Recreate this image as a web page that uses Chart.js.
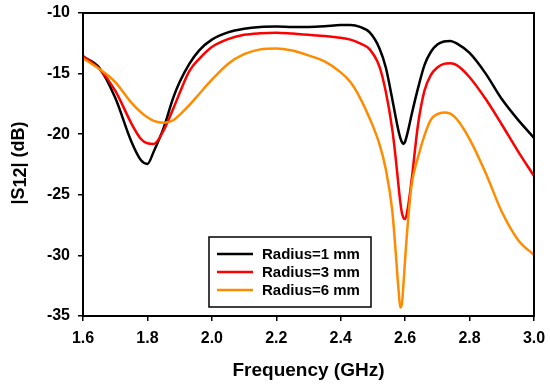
<!DOCTYPE html>
<html>
<head>
<meta charset="utf-8">
<script src="https://cdn.jsdelivr.net/npm/chart.js@4"></script>
<style>
  html, body { margin: 0; padding: 0; background: #fff; }
  #wrap { width: 550px; height: 386px; position: relative; }
</style>
</head>
<body>
<div id="wrap"><canvas id="chart" width="550" height="386"></canvas></div>
<script>
// Frequency grid (GHz), finer around the notches
const freq = [1.60, 1.65, 1.70, 1.75, 1.78, 1.80, 1.82, 1.85, 1.88, 1.90, 1.93, 1.96,
  2.00, 2.05, 2.10, 2.15, 2.20, 2.25, 2.30, 2.35, 2.40, 2.43, 2.46, 2.49, 2.52, 2.54,
  2.56, 2.57, 2.58, 2.585, 2.59, 2.595, 2.60, 2.61, 2.62, 2.64, 2.66, 2.68, 2.70, 2.72,
  2.74, 2.76, 2.80, 2.85, 2.90, 2.95, 3.00];

const r1mm = [-13.6, -14.5, -17.0, -20.6, -22.15, -22.45, -21.4, -19.5, -17.0, -15.7, -14.2, -13.1,
  -12.2, -11.6, -11.3, -11.15, -11.12, -11.15, -11.15, -11.1, -11.0, -11.0, -11.15, -11.6, -12.9, -14.5,
  -17.1, -18.5, -19.8, -20.3, -20.65, -20.8, -20.6, -19.6, -18.4, -16.2, -14.3, -13.2, -12.6, -12.35,
  -12.3, -12.5, -13.3, -15.0, -17.1, -18.8, -20.3];

const r3mm = [-13.55, -14.6, -16.4, -19.1, -20.4, -20.75, -20.8, -19.7, -17.9, -16.6, -14.8, -13.8,
  -12.8, -12.15, -11.8, -11.67, -11.62, -11.7, -11.8, -11.9, -12.05, -12.2, -12.5, -13.0, -14.4, -16.5,
  -19.6, -21.8, -24.4, -25.6, -26.5, -26.9, -27.0, -25.8, -23.8, -19.2, -16.4, -15.1, -14.5, -14.2,
  -14.15, -14.3, -15.3, -17.1, -19.2, -21.4, -23.45];

const r6mm = [-13.74, -14.6, -15.7, -17.4, -18.2, -18.6, -18.9, -19.05, -18.85, -18.4, -17.6, -16.7,
  -15.5, -14.2, -13.4, -13.0, -12.92, -13.1, -13.5, -14.0, -14.9, -15.7, -17.0, -18.7, -20.8, -22.9,
  -26.3, -29.5, -33.0, -34.3, -34.0, -32.3, -30.3, -26.8, -24.2, -21.9, -20.1, -18.8, -18.35, -18.2,
  -18.3, -18.75, -20.4, -23.2, -26.4, -28.7, -29.97];

const seriesLabels = ['Radius=1 mm', 'Radius=3 mm', 'Radius=6 mm'];
const seriesColors = ['#000000', '#ff0000', '#ff8c00'];
const xTicks = [1.6, 1.8, 2.0, 2.2, 2.4, 2.6, 2.8, 3.0];
const yTicks = [-35, -30, -25, -20, -15, -10];

const FONT = '"Liberation Sans", Arial, sans-serif';

function pts(ys) {
  return freq.map((f, i) => ({ x: f, y: ys[i] }));
}

// frame, y title with subscript, legend box
const extras = {
  id: 'extras',
  afterDraw(chart) {
    const ctx = chart.ctx;
    const a = chart.chartArea;
    ctx.save();
    ctx.strokeStyle = '#000';
    ctx.lineWidth = 2;
    ctx.strokeRect(a.left, a.top, a.right - a.left, a.bottom - a.top);

    // y title
    ctx.translate(19, 163);
    ctx.rotate(-Math.PI / 2);
    ctx.fillStyle = '#000';
    ctx.textBaseline = 'middle';
    ctx.font = 'bold 18px ' + FONT;
    const p1 = '|S', p2 = '12', p3 = '| (dB)';
    const w1 = ctx.measureText(p1).width;
    const w2 = ctx.measureText(p2).width;
    const w3 = ctx.measureText(p3).width;
    let x = -(w1 + w2 + w3) / 2;
    ctx.fillText(p1, x, 0);
    ctx.fillText(p2, x + w1, 2);
    ctx.fillText(p3, x + w1 + w2, 0);
    ctx.restore();

    // legend
    ctx.save();
    const lx = 209, ly = 237, lw = 162, lh = 70;
    ctx.fillStyle = '#fff';
    ctx.fillRect(lx, ly, lw, lh);
    ctx.strokeStyle = '#000';
    ctx.lineWidth = 1.5;
    ctx.strokeRect(lx, ly, lw, lh);
    ctx.font = 'bold 15px ' + FONT;
    ctx.textBaseline = 'middle';
    seriesLabels.forEach((label, i) => {
      const y = ly + 17 + i * 18;
      ctx.strokeStyle = seriesColors[i];
      ctx.lineWidth = 2.5;
      ctx.beginPath();
      ctx.moveTo(lx + 8, y);
      ctx.lineTo(lx + 44, y);
      ctx.stroke();
      ctx.fillStyle = '#000';
      ctx.fillText(label, lx + 53, y + 1);
    });
    ctx.restore();
  }
};

function noOverflow(s) {
  s.paddingTop = 0;
  s.paddingBottom = 0;
  s.paddingLeft = 0;
  s.paddingRight = 0;
}

new Chart(document.getElementById('chart'), {
  type: 'line',
  data: {
    datasets: [r1mm, r3mm, r6mm].map((ys, i) => ({
      label: seriesLabels[i],
      data: pts(ys),
      borderColor: seriesColors[i],
      backgroundColor: seriesColors[i],
      borderWidth: 2.5,
      pointRadius: 0,
      cubicInterpolationMode: 'monotone',
      fill: false
    })).reverse()
  },
  options: {
    responsive: false,
    animation: false,
    devicePixelRatio: 1,
    layout: { padding: { left: 0, top: 13, right: 16, bottom: 0 } },
    plugins: { legend: { display: false }, tooltip: { enabled: false } },
    scales: {
      x: {
        type: 'linear',
        min: 1.6,
        max: 3.0,
        afterBuildTicks: s => { s.ticks = xTicks.map(v => ({ value: v })); },
        afterFit: s => { s.height = 70; noOverflow(s); },
        ticks: {
          color: '#000',
          font: { family: FONT, size: 16, weight: 'bold' },
          padding: 8,
          maxRotation: 0,
          callback: v => v.toFixed(1)
        },
        grid: { drawOnChartArea: false, drawTicks: true, tickLength: 5, color: '#000', lineWidth: 1.5 },
        border: { display: true, color: '#000', width: 2 },
        title: {
          display: true,
          text: 'Frequency (GHz)',
          color: '#000',
          font: { family: FONT, size: 19, weight: 'bold' },
          padding: { top: 2 }
        }
      },
      y: {
        min: -35,
        max: -10,
        afterBuildTicks: s => { s.ticks = yTicks.map(v => ({ value: v })); },
        afterFit: s => { s.width = 83; noOverflow(s); },
        ticks: {
          color: '#000',
          font: { family: FONT, size: 16, weight: 'bold' },
          padding: 8
        },
        grid: { drawOnChartArea: false, drawTicks: true, tickLength: 5, color: '#000', lineWidth: 1.5 },
        border: { display: true, color: '#000', width: 2 }
      }
    }
  },
  plugins: [extras]
});
</script>
</body>
</html>
